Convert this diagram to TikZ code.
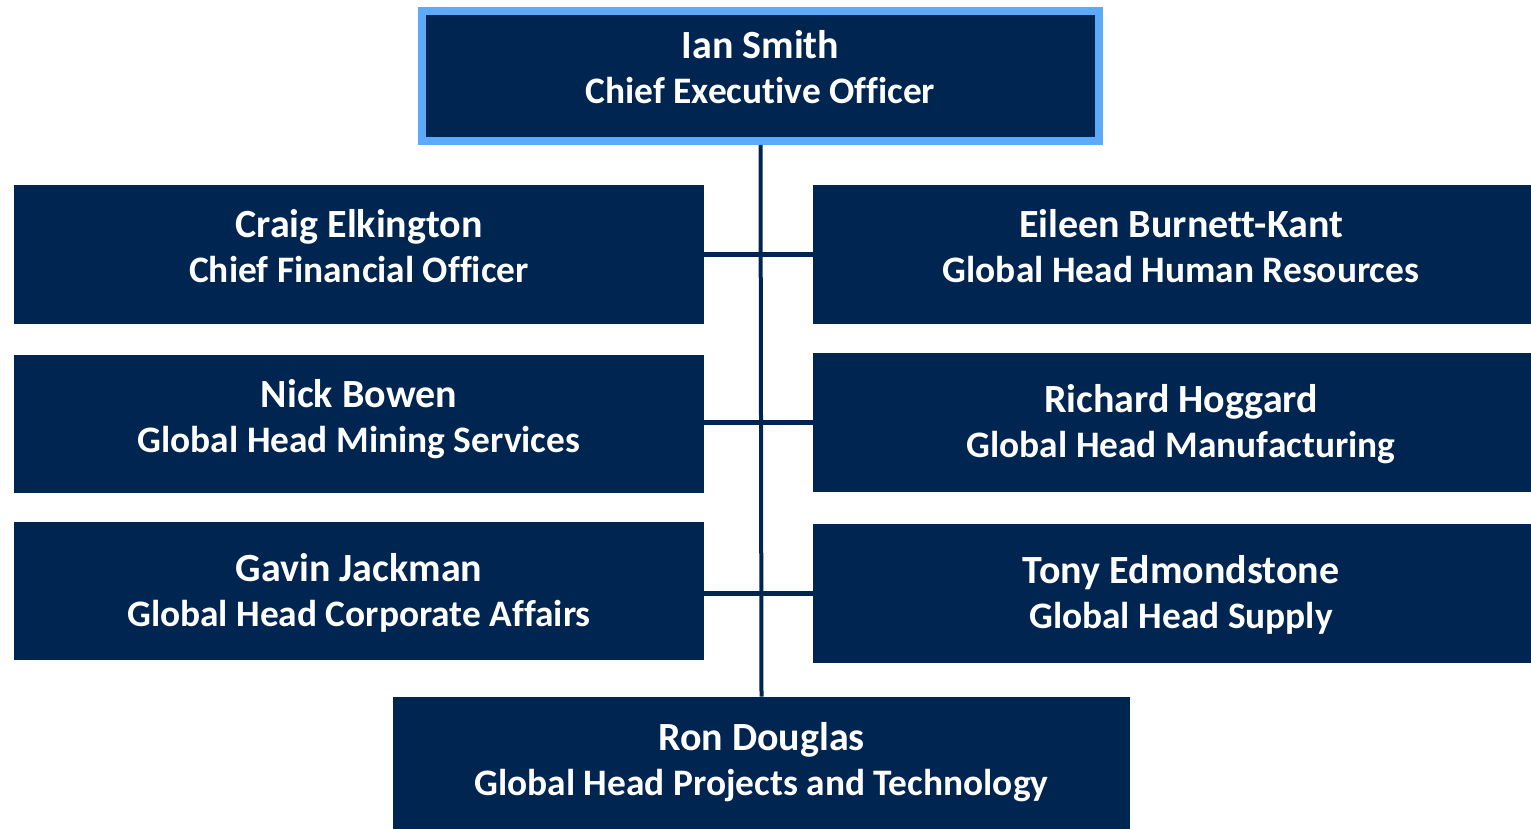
\documentclass[tikz,border=0pt]{standalone}
\usepackage{fontspec}
\setmainfont{Carlito}[Ligatures=CommonOff]
\usepackage{tikz}
\usetikzlibrary{positioning}

\definecolor{navy}{HTML}{002550}
\definecolor{sky}{HTML}{5CABFA}
\newcommand{\nm}[1]{{\fontsize{20}{22.5}\selectfont #1}}

\begin{document}
\begin{tikzpicture}[x=0.5pt,y=-0.5pt,
  box/.style={fill=navy,text=white,align=center,inner sep=0pt,
    text height=32pt,text depth=4pt,
    font=\bfseries\fontsize{18.7}{22.5}\selectfont},
  low/.style={text height=37pt,text depth=2pt},
  link/.style={draw=navy,line width=2.5pt}]
\useasboundingbox (0,0) rectangle (1531,829);
% top of the chart
\node[box,draw=sky,line width=4pt,minimum width=338.5pt,minimum height=65pt] (ceo) at (760.5,76)
  {\nm{Ian Smith}\\Chief Executive Officer};
% left column
\node[box,minimum width=345pt,minimum height=69.5pt] (cfo) at (359,254.5)
  {\nm{Craig Elkington}\\Chief Financial Officer};
\node[box,minimum width=345pt,minimum height=69pt] (mining) at (359,424)
  {\nm{Nick Bowen}\\Global Head Mining Services};
\node[box,low,minimum width=345pt,minimum height=69pt] (affairs) at (359,591)
  {\nm{Gavin Jackman}\\Global Head Corporate Affairs};
% right column (runs off the page edge)
\node[box,minimum width=368pt,minimum height=69.5pt] (hr) at (1181,254.5)
  {\nm{Eileen Burnett-Kant}\\Global Head Human Resources};
\node[box,low,minimum width=368pt,minimum height=69.5pt] (manuf) at (1181,422.5)
  {\nm{Richard Hoggard}\\Global Head Manufacturing};
\node[box,low,minimum width=368pt,minimum height=69.5pt] (supply) at (1181,593.5)
  {\nm{Tony Edmondstone}\\Global Head Supply};
% bottom
\node[box,minimum width=368.5pt,minimum height=70.5pt] (projects) at (761.5,767.5)
  {\nm{Ron Douglas}\\Global Head Projects and Technology};

% spine and cross bars
\draw[link,line width=2pt] (ceo.south) -- (projects.north);
\foreach \l/\r in {cfo/hr,mining/manuf,affairs/supply}
  \draw[link] (\r.west -| \l.east) -- (\r.west);
\end{tikzpicture}
\end{document}
